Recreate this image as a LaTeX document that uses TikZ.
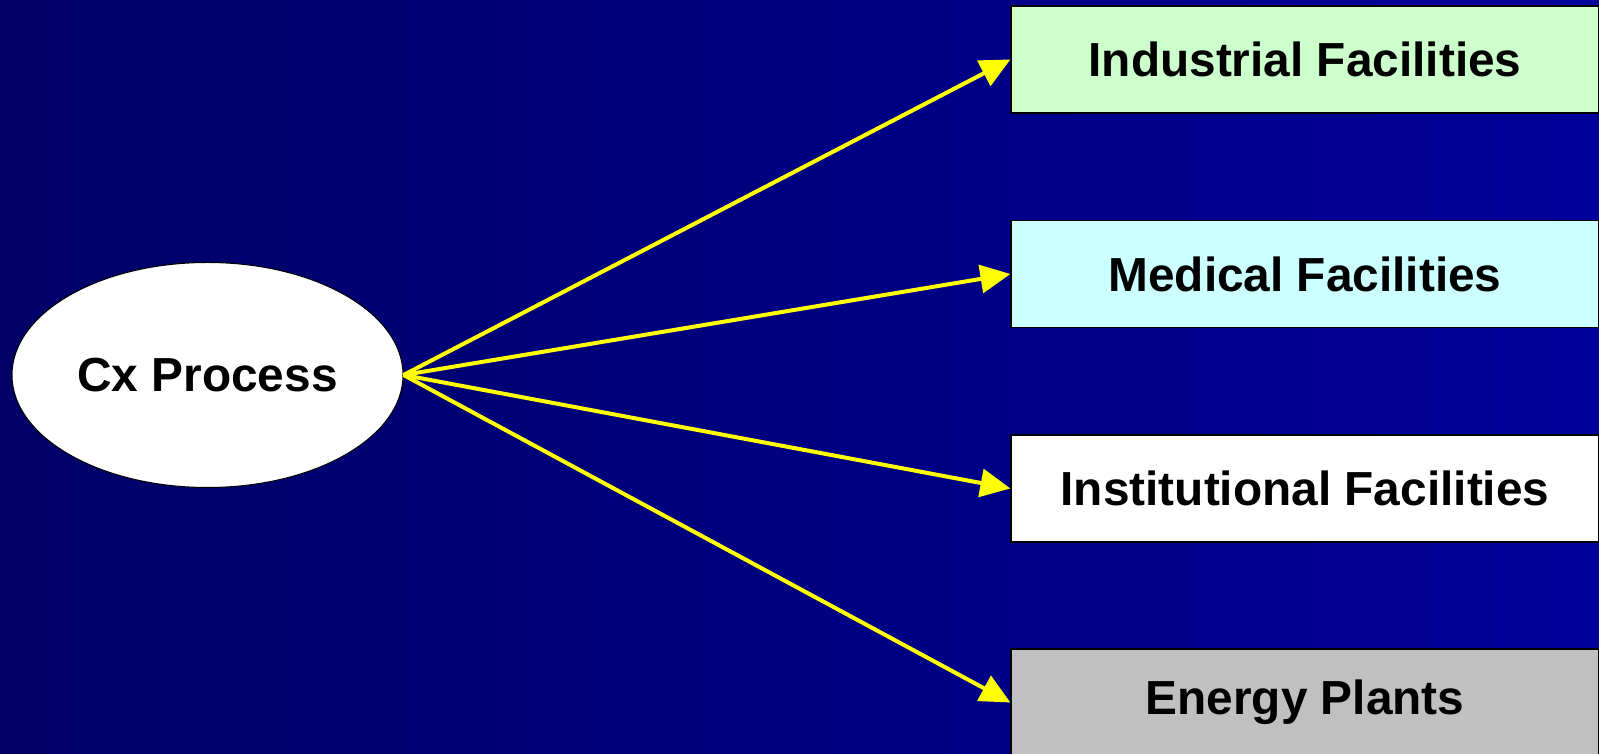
\documentclass[tikz,border=0pt]{standalone}
\usepackage{fontspec}
\setmainfont{Liberation Sans}
\usetikzlibrary{shapes.geometric,arrows.meta}
\definecolor{bgleft}{RGB}{0,0,102}
\definecolor{bgright}{RGB}{0,0,155}
\definecolor{indgreen}{RGB}{204,255,204}
\definecolor{medcyan}{RGB}{204,255,255}
\definecolor{enggray}{RGB}{192,192,192}
\definecolor{arrowyellow}{RGB}{255,255,0}
\tikzset{
  catbox/.style={draw=black, line width=1.2pt, rectangle, minimum width=588pt, minimum height=107pt, inner sep=0pt,
    font=\fontsize{47.8}{56}\selectfont\bfseries},
  hub/.style={draw=black, line width=1pt, fill=white, ellipse, minimum width=391pt, minimum height=225pt, inner sep=0pt,
    font=\fontsize{47.8}{56}\selectfont\bfseries},
  link/.style={draw=arrowyellow, line width=4pt, -{Triangle[length=30pt,width=28pt]}}
}
\begin{document}
\begin{tikzpicture}[x=1pt,y=1pt]
\useasboundingbox (0,0) rectangle (1599,754);
\clip (0,0) rectangle (1599,754);
\fill[left color=bgleft, right color=bgright] (0,0) rectangle (1599,754);
\node[hub] (cx) at (207.5,379) {Cx Process};
\node[catbox, fill=indgreen] (ind) at (1305,694.5) {Industrial Facilities};
\node[catbox, fill=medcyan] (med) at (1305,480) {Medical Facilities};
\node[catbox, fill=white] (ins) at (1305,265.5) {Institutional Facilities};
\node[catbox, fill=enggray] (eng) at (1305,51.5) {Energy Plants};
\draw[link] (cx.east) -- (ind.west);
\draw[link] (cx.east) -- (med.west);
\draw[link] (cx.east) -- (ins.west);
\draw[link] (cx.east) -- (eng.west);
\end{tikzpicture}
\end{document}
